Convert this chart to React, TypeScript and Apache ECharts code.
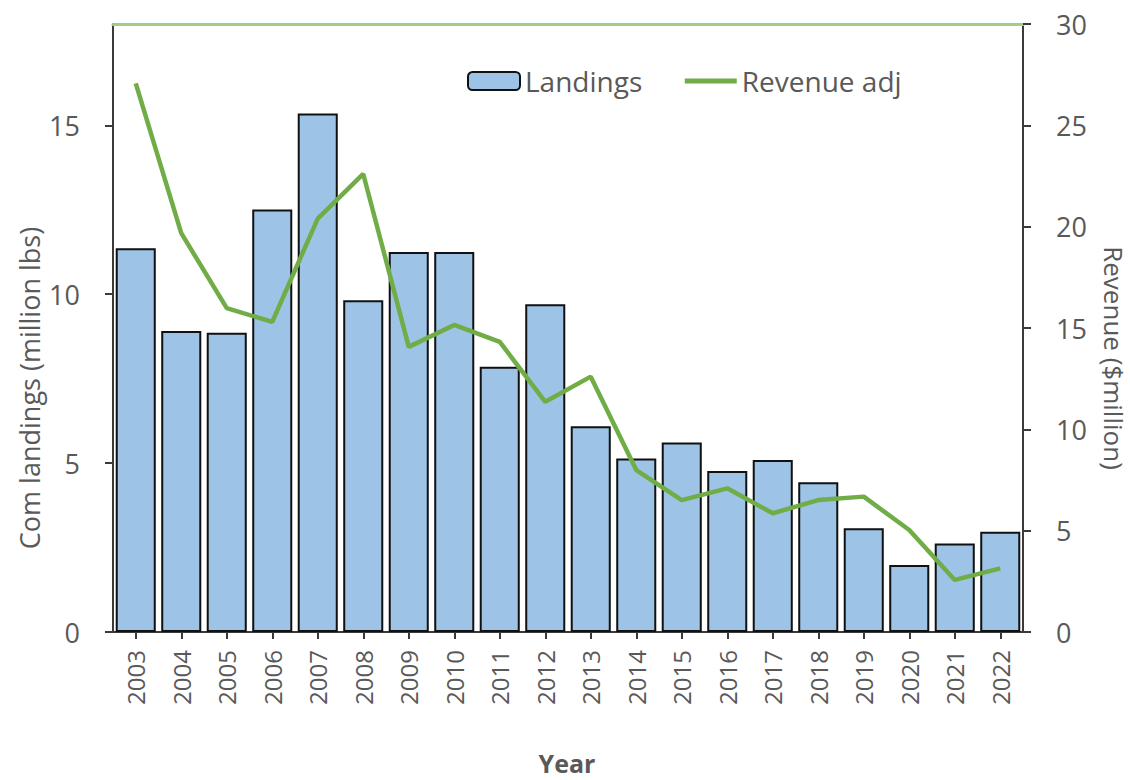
import React, { useEffect, useRef } from "react";
import * as echarts from "echarts";

const years = ["2003","2004","2005","2006","2007","2008","2009","2010","2011","2012","2013","2014","2015","2016","2017","2018","2019","2020","2021","2022"];
const landings = [11.36, 8.91, 8.86, 12.51, 15.35, 9.82, 11.25, 11.25, 7.85, 9.70, 6.09, 5.14, 5.61, 4.77, 5.09, 4.43, 3.07, 1.98, 2.62, 2.97];
const revenueAdj = [27.07, 19.68, 15.98, 15.3, 20.4, 22.6, 14.07, 15.15, 14.32, 11.36, 12.6, 7.99, 6.51, 7.09, 5.86, 6.51, 6.68, 5.03, 2.57, 3.14];
const leftTicks = [0, 5, 10, 15];

const FONT = "Open Sans";
const GRAY = "#595959";
const AXIS = "#3a3a3a";

export default function App() {
  const ref = useRef<HTMLDivElement>(null);
  useEffect(() => {
    if (!ref.current) return;
    const chart = echarts.init(ref.current, undefined, { renderer: "svg" });
    chart.setOption({
      animation: false,
      backgroundColor: "#ffffff",
      textStyle: { fontFamily: FONT },
      grid: { left: 113, right: 107, top: 24, bottom: 148 },
      legend: {
        left: 462,
        top: 62,
        itemWidth: 52,
        itemHeight: 18,
        itemGap: 40,
        textStyle: { fontSize: 28, color: GRAY, fontFamily: FONT },
        data: [
          { name: "Landings" },
          {
            name: "Revenue adj",
            itemStyle: { opacity: 0, borderWidth: 0 },
            lineStyle: { width: 5, color: "#70ad47" },
          },
        ],
      },
      xAxis: [
        {
          type: "category",
          data: years,
          position: "bottom",
          axisLine: { lineStyle: { color: AXIS, width: 2 } },
          axisTick: { show: true, alignWithLabel: true, length: 7, lineStyle: { color: AXIS, width: 2 } },
          axisLabel: { rotate: 90, fontSize: 24, color: GRAY, margin: 18, fontFamily: FONT },
        },
        {
          type: "category",
          data: years,
          position: "top",
          axisLine: { onZero: false, lineStyle: { color: "#a3cc87", width: 3 } },
          axisTick: { show: false },
          axisLabel: { show: false },
        },
      ],
      yAxis: [
        {
          type: "value",
          min: 0,
          max: 18,
          interval: 5,
          position: "left",
          splitLine: { show: false },
          axisLine: { show: true, lineStyle: { color: AXIS, width: 2 } },
          axisTick: { show: true, length: 8, lineStyle: { color: AXIS, width: 2 }, customValues: leftTicks },
          axisLabel: {
            fontSize: 27,
            color: GRAY,
            margin: 33,
            fontFamily: FONT,
            customValues: leftTicks,
            formatter: (v: number) => (v % 5 === 0 ? String(v) : ""),
          },
        },
        {
          type: "value",
          min: 0,
          max: 30,
          interval: 5,
          position: "right",
          splitLine: { show: false },
          axisLine: { show: true, lineStyle: { color: AXIS, width: 2 } },
          axisTick: { show: true, length: 8, lineStyle: { color: AXIS, width: 2 } },
          axisLabel: { fontSize: 27, color: GRAY, margin: 33, fontFamily: FONT },
        },
      ],
      graphic: [
        {
          type: "text",
          x: 29,
          y: 388,
          rotation: Math.PI / 2,
          style: {
            text: "Com landings (million lbs)",
            fill: GRAY,
            font: `27px '${FONT}'`,
            align: "center",
            verticalAlign: "middle",
          },
        },
        {
          type: "text",
          x: 1114,
          y: 358,
          rotation: -Math.PI / 2,
          style: {
            text: "Revenue ($million)",
            fill: GRAY,
            font: `26px '${FONT}'`,
            align: "center",
            verticalAlign: "middle",
          },
        },
        {
          type: "text",
          x: 567,
          y: 763,
          style: {
            text: "Year",
            fill: GRAY,
            font: `bold 25px '${FONT}'`,
            align: "center",
            verticalAlign: "middle",
          },
        },
      ],
      series: [
        {
          name: "Landings",
          type: "bar",
          data: landings,
          xAxisIndex: 0,
          yAxisIndex: 0,
          barCategoryGap: "12%",
          itemStyle: { color: "#9dc3e6", borderColor: "#111111", borderWidth: 2 },
          z: 2,
        },
        {
          name: "Revenue adj",
          type: "line",
          data: revenueAdj,
          xAxisIndex: 0,
          yAxisIndex: 1,
          symbol: "none",
          lineStyle: { color: "#70ad47", width: 4.5 },
          itemStyle: { color: "#70ad47" },
          z: 3,
        },
      ],
    });
    return () => chart.dispose();
  }, []);
  return (
    <div
      ref={ref}
      style={{ position: "fixed", left: 0, top: 0, width: 1130, height: 780, background: "#fff" }}
    />
  );
}
